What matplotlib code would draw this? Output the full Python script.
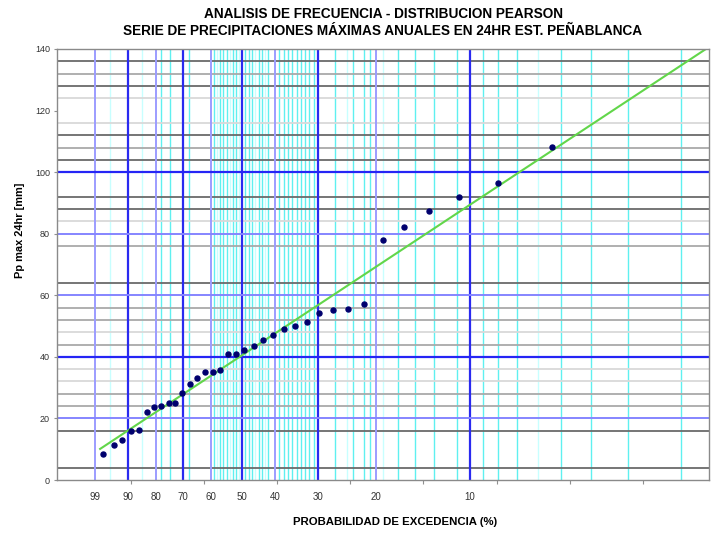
import numpy as np
import matplotlib
matplotlib.use("Agg")
import matplotlib.pyplot as plt

plt.rcParams['font.family'] = ['Liberation Sans', 'DejaVu Sans']

# observed points: exceedance probability (%) and max 24 h rainfall (mm)
prob = [96.9, 93.8, 91.6, 88.9, 86.1, 83.2, 80.7, 78.1, 75.2, 73.0, 70.4, 67.5,
        65.0, 62.1, 59.4, 57.1, 54.5, 51.9, 49.4, 46.4, 43.6, 40.6, 37.9, 35.3,
        32.6, 29.8, 27.4, 24.8, 22.1, 19.0, 16.3, 13.5, 10.85, 8.0, 5.4]
pp = [8.4, 11.4, 13.0, 15.9, 16.2, 22.1, 23.7, 24.0, 25.0, 25.0, 28.3, 31.2,
      33.1, 35.1, 35.1, 35.7, 40.9, 40.9, 42.2, 43.5, 45.5, 47.1, 49.0, 50.0,
      51.3, 54.2, 55.2, 55.5, 57.2, 77.9, 82.2, 87.4, 91.9, 96.5, 108.2]

# fitted Pearson line (two ends)
fit_prob = [97.6, 1.72]
fit_pp = [10.1, 140.3]

# probability labels on the x axis
prob_labels = [99, 90, 80, 70, 60, 50, 40, 30, 20, 10]

# grid of the probability paper
v_strong = [90, 70, 50, 30, 10]
v_medium = [99, 80, 60, 40, 20]
v_cyan = [78, 75, 68, 59, 57, 56, 55, 53, 52, 49, 48, 47, 45, 44, 42, 39, 38, 37,
          36, 35, 34, 33, 32, 31, 27, 24, 22, 21, 17, 15, 13, 11, 9, 8, 7, 5, 4, 3, 2]
v_faint = [95, 85, 58, 54, 51, 46, 43, 25, 19, 6]

h_dark = [4, 16, 64, 88, 92, 104, 112, 128, 136]
h_mid = [24, 28, 44, 52, 56, 76, 108, 132]
h_light = [32, 36, 48, 84, 116, 124]
h_blue = [40, 100]
h_lblue = [20, 60, 80]

# probability paper scale (anchors of the printed paper)
p_anchor = np.array([100, 99, 90, 80, 70, 60, 50, 40, 30, 20, 19, 17, 15, 13, 11,
                     10, 9, 8, 7, 6, 5, 4, 3, 2, 1, 0], dtype=float)
u_anchor = np.array([0, 95, 128, 156, 183, 211, 242, 275, 318, 376, 383, 398, 415,
                     434, 457, 470, 483, 498, 517, 538, 561, 591, 628, 681, 775, 1000],
                    dtype=float)


def forward(p):
    return np.interp(p, p_anchor[::-1], u_anchor[::-1])


def inverse(u):
    return np.interp(u, u_anchor, p_anchor)


fig = plt.figure(figsize=(7.11, 5.33), dpi=100)
ax = fig.add_axes([57 / 711, 1 - 480 / 533, (709 - 57) / 711, (480 - 49) / 533])
ax.set_xscale('function', functions=(forward, inverse))
ax.set_xlim(inverse(709), inverse(57))
ax.set_ylim(0, 140)

for p in v_faint:
    ax.axvline(p, color='#c8ffff', lw=1.0, zorder=1)
for p in v_cyan:
    ax.axvline(p, color='#5ff0f0', lw=1.0, zorder=1)
for y in h_light:
    ax.axhline(y, color='#d9d9d9', lw=1.3, zorder=2)
for y in h_mid:
    ax.axhline(y, color='#a9a9a9', lw=1.3, zorder=2)
for y in h_dark:
    ax.axhline(y, color='#6a6a6a', lw=1.3, zorder=2)
for p in v_medium:
    ax.axvline(p, color='#9c9cff', lw=1.4, zorder=3)
for p in v_strong:
    ax.axvline(p, color='#2a2af0', lw=1.6, zorder=3)
for y in h_lblue:
    ax.axhline(y, color='#8585ff', lw=1.4, zorder=3)
for y in h_blue:
    ax.axhline(y, color='#2525f5', lw=1.6, zorder=3)

ax.plot(fit_prob, fit_pp, color='#62d64a', lw=1.5, zorder=4)
ax.plot(prob, pp, 'o', color='#00006e', ms=3.6, zorder=5)

# evenly spaced marks of the base axis, labels carried by minor ticks
ax.set_xticks(inverse(57.4 + 73.2 * np.arange(1, 9)))
ax.set_xticklabels([])
ax.set_xticks(prob_labels, minor=True)
ax.set_xticklabels([str(p) for p in prob_labels], minor=True)
ax.tick_params(axis='x', which='major', length=3, color='#909090', direction='out')
ax.tick_params(axis='x', which='minor', length=0, pad=9, labelsize=7, labelcolor='#333333')

ax.set_yticks(np.arange(0, 141, 20))
ax.tick_params(axis='y', length=2, color='#909090', labelsize=6.5, labelcolor='#333333', pad=3)

for s in ax.spines.values():
    s.set_color('#8a8a8a')
    s.set_linewidth(1.0)
    s.set_zorder(6)

fig.text(383 / 711, 1 - 14 / 533, 'ANALISIS DE FRECUENCIA - DISTRIBUCION PEARSON',
         ha='center', va='center', fontsize=9.8, fontweight='bold')
fig.text(383 / 711, 1 - 31 / 533,
         'SERIE DE PRECIPITACIONES MÁXIMAS ANUALES EN 24HR EST. PEÑABLANCA',
         ha='center', va='center', fontsize=9.8, fontweight='bold')
fig.text(395 / 711, 1 - 522 / 533, 'PROBABILIDAD DE EXCEDENCIA (%)',
         ha='center', va='center', fontsize=8.2, fontweight='bold')
fig.text(20 / 711, 1 - 230 / 533, 'Pp max 24hr [mm]', rotation=90,
         ha='center', va='center', fontsize=7.9, fontweight='bold')

fig.savefig('out.png', dpi=100)
